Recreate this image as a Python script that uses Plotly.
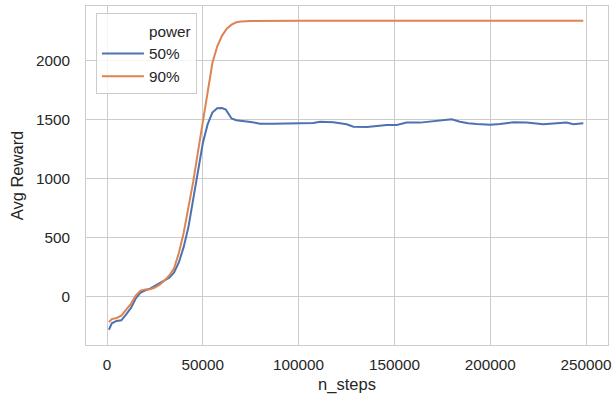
import plotly.graph_objects as go

# ---- data ----
steps_50 = [1000, 2500, 5000, 7500, 10000, 12500, 15000, 17500, 20000, 22500, 25000,
            27500, 30000, 32500, 35000, 37500, 40000, 42500, 45000, 47500, 50000,
            52500, 55000, 57500, 60000, 62000, 63500, 65000, 67500, 70000, 72900,
            76000, 79800, 86800, 93800, 100700, 107700, 111200, 118100, 125100,
            128600, 135700, 140800, 146000, 151200, 156400, 163400, 167000, 172100,
            176000, 179900, 184200, 188500, 192900, 200000, 205100, 212100, 219000,
            223000, 227700, 234700, 239900, 243400, 248600]
reward_50 = [-280, -225, -205, -200, -150, -95, -15, 35, 55, 68, 92,
             118, 138, 162, 205, 290, 420, 590, 830, 1080, 1300,
             1460, 1560, 1597, 1598, 1585, 1550, 1510, 1495, 1488, 1485,
             1478, 1466, 1466, 1469, 1475, 1472, 1483, 1478, 1461,
             1441, 1438, 1447, 1455, 1455, 1475, 1475, 1480, 1492,
             1498, 1503, 1483, 1470, 1464, 1458, 1464, 1478, 1475,
             1468, 1461, 1470, 1475, 1461, 1470]

steps_90 = [1000, 2500, 5000, 7500, 10000, 12500, 15000, 17500, 20000, 22500, 25000,
            27500, 30000, 32500, 35000, 37500, 40000, 42500, 45000, 47500, 50000,
            52500, 55000, 57500, 60000, 62500, 65000, 67500, 70000, 75000, 80000,
            100000, 150000, 200000, 248600]
reward_90 = [-215, -190, -180, -160, -110, -60, 10, 52, 62, 63, 78,
             102, 138, 180, 240, 370, 540, 760, 975, 1230, 1480,
             1760, 1980, 2120, 2210, 2270, 2305, 2325, 2332, 2336, 2337,
             2337, 2337, 2337, 2337]

legend_title = "power"
labels = ["50%", "90%"]
colors = ["#4c72b0", "#dd8452"]

FONT = "Liberation Sans, Arial, sans-serif"
TXT = "#262626"

fig = go.Figure()
# seaborn-style legend title rendered as a handle-less entry
fig.add_trace(go.Scatter(x=[None], y=[None], mode="lines", name=legend_title,
                         line=dict(color="rgba(0,0,0,0)", width=2), hoverinfo="skip"))
fig.add_trace(go.Scatter(x=steps_50, y=reward_50, mode="lines", name=labels[0],
                         line=dict(color=colors[0], width=2)))
fig.add_trace(go.Scatter(x=steps_90, y=reward_90, mode="lines", name=labels[1],
                         line=dict(color=colors[1], width=2)))

axis_common = dict(showgrid=True, gridcolor="#cccccc", gridwidth=1,
                   showline=True, linecolor="#cccccc", linewidth=1, mirror=True,
                   zeroline=False, ticks="", automargin=False,
                   tickfont=dict(family=FONT, size=15.3, color=TXT))

fig.update_layout(
    width=612, height=403,
    margin=dict(l=86, r=4, t=6, b=58),
    paper_bgcolor="white", plot_bgcolor="white",
    font=dict(family=FONT, color=TXT),
    xaxis=dict(range=[-10960, 261480], tickvals=[0, 50000, 100000, 150000, 200000, 250000],
               ticktext=["0", "50000", "100000", "150000", "200000", "250000"],
               title=dict(text="n_steps", font=dict(family=FONT, size=16.5, color=TXT), standoff=6),
               ticklabelstandoff=6, **axis_common),
    yaxis=dict(range=[-409, 2463], tickvals=[0, 500, 1000, 1500, 2000],
               ticktext=["0", "500", "1000", "1500", "2000"],
               title=dict(text="Avg Reward", font=dict(family=FONT, size=16.5, color=TXT), standoff=8),
               ticklabelstandoff=12, **axis_common),
    legend=dict(x=0.019, y=0.979, xanchor="left", yanchor="top",
                bgcolor="rgba(255,255,255,0.8)", bordercolor="#cccccc", borderwidth=1,
                font=dict(family=FONT, size=15.3, color=TXT), itemwidth=42,
                entrywidth=58, entrywidthmode="pixels",
                tracegroupgap=0),
    showlegend=True,
)

fig.write_html("out.html", config={"displayModeBar": False},
               post_script="document.body.style.margin='0';")
